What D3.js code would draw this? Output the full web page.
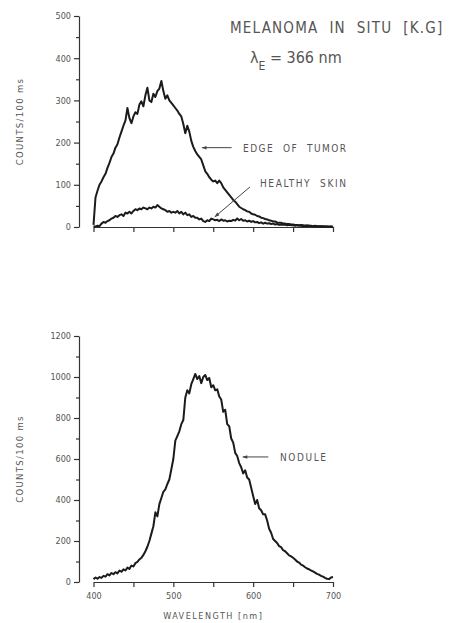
<!DOCTYPE html>
<html>
<head>
<meta charset="utf-8">
<script src="https://cdn.jsdelivr.net/npm/d3@7"></script>
<style>
  body { margin: 0; background: #fff; }
  svg text { font-family: "DejaVu Sans Condensed", "DejaVu Sans", sans-serif; font-stretch: condensed; fill: #555; }
  .axis path, .axis line { stroke: #333; stroke-width: 1.2; }
  .axis text { font-size: 9px; fill: #555; }
</style>
</head>
<body>
<svg id="chart" width="460" height="623"></svg>
<script>
// wavelength grid of the spectrometer (nm), 2.5 nm steps
let waveStart = 400, waveEnd = 700, waveStep = 2.5;
let wavelengths = d3.range(waveStart, waveEnd + 0.1, waveStep);

// counts / 100 ms
let edgeOfTumor = [5,70,86,100,108,118,126,140,152,166,174,188,196,212,226,240,252,282,258,246,
  262,272,268,290,298,286,312,330,300,296,316,308,322,328,346,322,304,312,300,294,
  288,282,276,268,262,244,222,240,226,204,190,180,172,166,160,146,132,126,118,112,
  108,110,104,110,104,94,88,82,76,70,64,60,54,48,45,42,40,37,36,32,
  30,29,26,25,22,21,19,18,16,15,13,13,11,10,10,8,8,7,7,6,
  6,5,5,4,5,4,3,4,3,3,2,3,2,2,1,2,1,1,1,1,0];
let healthySkin = [2,1,3,2,8,12,10,14,16,20,22,26,24,28,30,26,34,32,36,32,
  38,42,40,44,42,46,44,42,46,44,48,46,52,48,44,42,40,36,38,34,
  36,34,38,32,36,30,34,28,30,24,26,22,22,18,20,14,12,16,14,20,
  18,16,17,14,18,15,16,13,15,14,17,15,20,16,19,15,16,13,15,12,
  14,11,12,9,11,8,10,8,9,7,8,6,7,5,6,5,6,4,5,4,
  4,3,4,3,3,2,3,2,3,2,2,1,2,1,2,1,1,1,0,1,0];
let nodule = [14,22,16,24,20,30,26,38,32,44,38,48,42,56,50,62,56,70,64,80,
  76,92,98,110,118,132,150,172,200,236,272,340,320,380,410,440,452,478,500,550,
  600,690,712,735,770,790,900,935,920,965,990,1015,990,1005,970,1000,1010,985,995,950,
  960,935,940,905,890,830,840,770,760,700,680,630,615,580,560,530,545,510,500,460,
  420,380,400,360,350,330,330,300,260,240,210,200,190,175,170,155,150,140,130,125,
  118,110,100,95,85,80,72,66,62,56,52,46,40,36,30,26,20,16,14,22,24];

let topTicks = [0,100,200,300,400,500];
let topMinor = [50,150,250,350,450];
let bottomTicks = [0,200,400,600,800,1000,1200];
let bottomMinor = [100,300,500,700,900,1100];
let waveTicks = [400,450,500,550,600,650,700];
let waveLabels = [400,500,600,700];

let svg = d3.select('#chart');
let axisX = 79;
let xScale = d3.scaleLinear().domain([400,700]).range([93.5,333]);
let yTop = d3.scaleLinear().domain([0,500]).range([227,16]);
let yBottom = d3.scaleLinear().domain([0,1200]).range([582,336]);

function drawPanel(yScale, ticks, minor, showLabels){
    let g = svg.append('g');
    // y axis, offset to the left of the first wavelength
    g.append('g')
        .attr('class','axis')
        .attr('transform',`translate(${axisX},0)`)
        .call(d3.axisLeft(yScale).tickValues(ticks).tickSize(5).tickSizeOuter(0).tickPadding(3)
            .tickFormat(d3.format('d')))
    g.append('g')
        .attr('class','axis')
        .attr('transform',`translate(${axisX},0)`)
        .call(d3.axisLeft(yScale).tickValues(minor).tickSize(3).tickFormat(''))
        .select('.domain').remove();
    // x axis
    let xa = g.append('g')
        .attr('class','axis')
        .attr('transform',`translate(0,${yScale(0)})`)
        .call(d3.axisBottom(xScale).tickValues(waveTicks).tickSize(5).tickSizeOuter(0).tickPadding(6)
            .tickFormat((d)=> showLabels && waveLabels.includes(d) ? d : ''));
    xa.selectAll('text').style('font-size','9px');
    // y label
    g.append('text')
        .attr('transform',`translate(23,${(yScale.range()[0]+yScale.range()[1])/2}) rotate(-90)`)
        .attr('text-anchor','middle')
        .style('font-size','9.5px')
        .style('letter-spacing','1.3px')
        .text('COUNTS/100 ms');
    return g;
}

function drawSpectrum(values, yScale){
    let line = d3.line()
        .x((d,i)=>xScale(wavelengths[i]))
        .y((d)=>yScale(d));
    svg.append('path')
        .datum(values)
        .attr('fill','none')
        .attr('stroke','#1b1b1b')
        .attr('stroke-width',2)
        .attr('stroke-linejoin','round')
        .attr('d',line);
}

function arrow(x1,y1,x2,y2){
    // tail (x1,y1) -> tip (x2,y2)
    svg.append('line')
        .attr('x1',x1).attr('y1',y1).attr('x2',x2).attr('y2',y2)
        .attr('stroke','#444').attr('stroke-width',1)
        .attr('marker-end','url(#arrow)');
}

svg.append('defs').append('marker')
    .attr('id','arrow')
    .attr('viewBox','0 0 10 10')
    .attr('refX',9).attr('refY',5)
    .attr('markerWidth',7).attr('markerHeight',5)
    .attr('orient','auto')
    .append('path').attr('d','M0,1.5L10,5L0,8.5Z').attr('fill','#444');

drawPanel(yTop, topTicks, topMinor, false);
drawPanel(yBottom, bottomTicks, bottomMinor, true);
drawSpectrum(edgeOfTumor, yTop);
drawSpectrum(healthySkin, yTop);
drawSpectrum(nodule, yBottom);

// titles
svg.append('text')
    .attr('x',230).attr('y',33)
    .style('font-size','15px')
    .style('letter-spacing','1.2px')
    .attr('xml:space','preserve')
    .text('MELANOMA  IN  SITU  [K.G]');
let lam = svg.append('text')
    .attr('x',250).attr('y',63)
    .style('font-size','16px');
lam.append('tspan').text('λ');
lam.append('tspan').attr('dy',7).style('font-size','12px').text('E');
lam.append('tspan').attr('dy',-7).text(' = 366 nm');

// annotations
svg.append('text')
    .attr('x',243).attr('y',152)
    .style('font-size','10px').style('letter-spacing','1.5px')
    .text('EDGE  OF  TUMOR').attr('xml:space','preserve');
arrow(xScale(573),yTop(188),xScale(536),yTop(188));

svg.append('text')
    .attr('x',260).attr('y',187)
    .style('font-size','10px').style('letter-spacing','1.6px')
    .text('HEALTHY  SKIN').attr('xml:space','preserve');
arrow(xScale(596),yTop(95),xScale(552),yTop(24));

svg.append('text')
    .attr('x',280).attr('y',461)
    .style('font-size','10px').style('letter-spacing','1.6px')
    .text('NODULE');
arrow(xScale(619),yBottom(610),xScale(587),yBottom(610));

svg.append('text')
    .attr('x',xScale(550)).attr('y',619)
    .attr('text-anchor','middle')
    .style('font-size','9px').style('letter-spacing','1.5px')
    .text('WAVELENGTH [nm]');
</script>
</body>
</html>
